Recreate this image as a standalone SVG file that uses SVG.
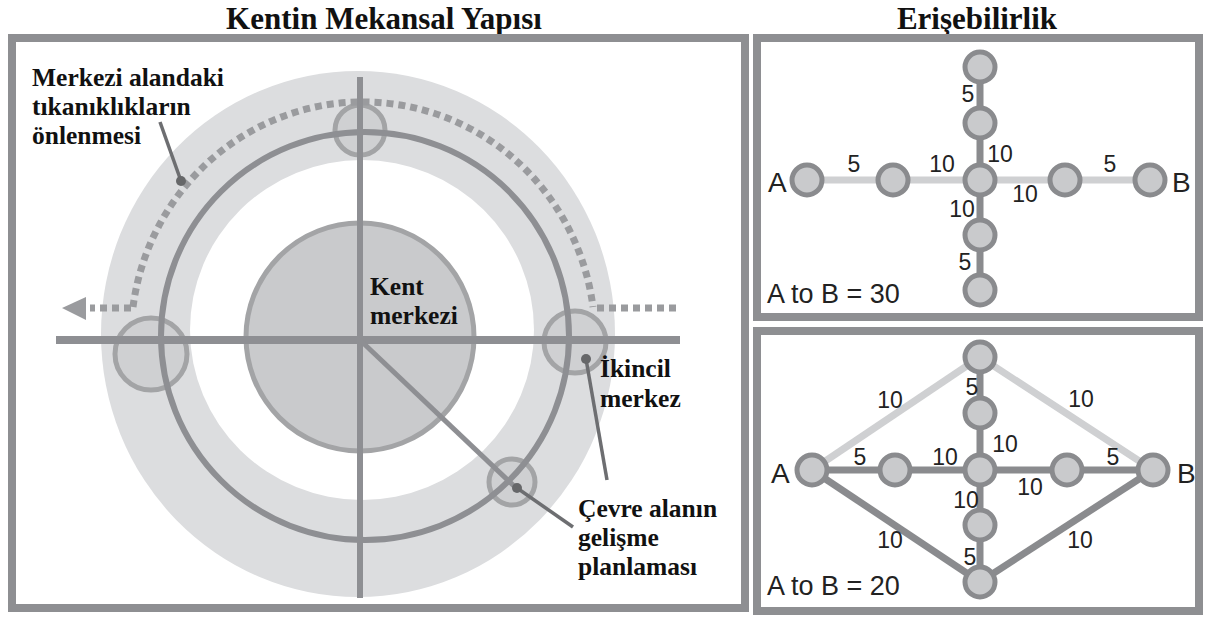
<svg xmlns="http://www.w3.org/2000/svg" width="1205" height="617" viewBox="0 0 1205 617">
<style>
.frame{fill:none;stroke:#8e8f92;stroke-width:8}
.title{font-family:"Liberation Serif",serif;font-weight:bold;font-size:31px;fill:#111;text-anchor:middle}
.lbl{font-family:"Liberation Serif",serif;font-weight:bold;font-size:25.5px;fill:#111}
.num{font-family:"Liberation Sans",Arial,sans-serif;font-size:23px;fill:#222;text-anchor:middle}
.big{font-family:"Liberation Sans",Arial,sans-serif;font-size:28px;fill:#222}
.sum{font-family:"Liberation Sans",Arial,sans-serif;font-size:27px;fill:#222}
.road{fill:none;stroke:#8e8f93}
.sub{fill:#cfd0d2;stroke:#a3a4a6;stroke-width:5}
.ptr{stroke:#6d6e71;stroke-width:3.5;fill:none}
.dot{fill:#666769}
.dash{fill:none;stroke:#9a9b9e;stroke-width:7;stroke-dasharray:7 5}
.node{fill:#c9cacc;stroke:#8a8b8e;stroke-width:5}
.lite{stroke:#cfd0d2;stroke-width:7;fill:none}
.dark{stroke:#8a8b8e;stroke-width:7;fill:none}
</style>

<!-- Titles -->
<text class="title" x="384" y="29">Kentin Mekansal Yapısı</text>
<text class="title" x="977" y="29">Erişebilirlik</text>

<!-- Frames -->
<g id="frames">
<rect class="frame" x="12" y="38" width="733" height="570"/>
<rect class="frame" x="757" y="38" width="442" height="279"/>
<rect class="frame" x="757" y="331" width="442" height="280"/>
</g>

<!-- Left panel: urban spatial structure -->
<g id="band">
<ellipse cx="358" cy="334" rx="257" ry="263" fill="#dcdddf"/>
<ellipse cx="362" cy="330" rx="172" ry="170" fill="#ffffff"/>
</g>
<g id="kent-merkezi">
<circle cx="360" cy="337" r="114" fill="#c9cacc" stroke="#a3a4a6" stroke-width="5"/>
</g>
<g id="sub-centres">
<circle class="sub" cx="360" cy="130" r="25"/>
<circle class="sub" cx="151" cy="354" r="36"/>
<circle class="sub" cx="575" cy="342" r="31"/>
<circle class="sub" cx="512" cy="482" r="23"/>
</g>
<g id="ring-road">
<ellipse class="road" cx="365" cy="336" rx="204" ry="204" stroke-width="6"/>
</g>
<g id="dashed-bypass">
<path class="dash" d="M133,307 A232,236 0 0 1 593,307"/>
<path class="dash" d="M597,308 L680,308"/>
<path class="dash" d="M131,308 L90,308"/>
<polygon points="62,308 86,297 86,320" fill="#9a9b9e"/>
</g>
<g id="axes">
<line class="road" x1="360" y1="77" x2="360" y2="598" stroke-width="6"/>
<line class="road" x1="56" y1="340" x2="680" y2="340" stroke-width="8"/>
<line class="road" x1="360" y1="340" x2="514" y2="486" stroke-width="5"/>
</g>
<g id="pointers">
<line class="ptr" x1="160" y1="122" x2="181" y2="181"/>
<circle class="dot" cx="181" cy="181" r="5"/>
<line class="ptr" x1="586" y1="359" x2="607" y2="480"/>
<circle class="dot" cx="586" cy="359" r="5"/>
<line class="ptr" x1="517" y1="488" x2="573" y2="527"/>
<circle class="dot" cx="517" cy="488" r="5"/>
</g>
<g id="labels-left">
<text class="lbl" x="32" y="86">Merkezi alandaki</text>
<text class="lbl" x="32" y="115">tıkanıklıkların</text>
<text class="lbl" x="32" y="144">önlenmesi</text>
<text class="lbl" x="370" y="295">Kent</text>
<text class="lbl" x="370" y="324">merkezi</text>
<text class="lbl" x="600" y="377">İkincil</text>
<text class="lbl" x="600" y="407">merkez</text>
<text class="lbl" x="578" y="517">Çevre alanın</text>
<text class="lbl" x="578" y="546">gelişme</text>
<text class="lbl" x="578" y="575">planlaması</text>
</g>

<!-- Top right graph -->
<g id="connectors-top">
<line class="lite" x1="807" y1="180" x2="1150" y2="180"/>
<line class="dark" x1="980" y1="67" x2="980" y2="290"/>
</g>
<g id="nodes-top">
<circle class="node" cx="807" cy="180" r="15"/>
<circle class="node" cx="893" cy="180" r="15"/>
<circle class="node" cx="980" cy="180" r="15"/>
<circle class="node" cx="1065" cy="180" r="15"/>
<circle class="node" cx="1150" cy="180" r="15"/>
<circle class="node" cx="980" cy="67" r="15"/>
<circle class="node" cx="980" cy="123" r="15"/>
<circle class="node" cx="980" cy="235" r="15"/>
<circle class="node" cx="980" cy="290" r="15"/>
</g>
<g id="labels-top">
<text class="big" x="768" y="192">A</text>
<text class="big" x="1172" y="192">B</text>
<text class="num" x="854" y="172">5</text>
<text class="num" x="942" y="172">10</text>
<text class="num" x="1000" y="162">10</text>
<text class="num" x="1025" y="202">10</text>
<text class="num" x="1110" y="172">5</text>
<text class="num" x="962" y="217">10</text>
<text class="num" x="968" y="102">5</text>
<text class="num" x="965" y="270">5</text>
<text class="sum" x="767" y="303">A to B = 30</text>
</g>

<!-- Bottom right graph -->
<g id="connectors-bottom">
<line class="lite" x1="812" y1="470" x2="980" y2="357"/>
<line class="lite" x1="980" y1="357" x2="1153" y2="470"/>
<line class="dark" x1="812" y1="470" x2="980" y2="582" stroke-width="8"/>
<line class="dark" x1="980" y1="582" x2="1153" y2="470" stroke-width="8"/>
<line class="dark" x1="812" y1="470" x2="1153" y2="470"/>
<line class="dark" x1="980" y1="357" x2="980" y2="582"/>
</g>
<g id="nodes-bottom">
<circle class="node" cx="980" cy="357" r="15"/>
<circle class="node" cx="980" cy="413" r="15"/>
<circle class="node" cx="812" cy="470" r="15"/>
<circle class="node" cx="895" cy="470" r="15"/>
<circle class="node" cx="980" cy="470" r="15"/>
<circle class="node" cx="1067" cy="470" r="15"/>
<circle class="node" cx="1153" cy="470" r="15"/>
<circle class="node" cx="980" cy="525" r="15"/>
<circle class="node" cx="980" cy="582" r="15"/>
</g>
<g id="labels-bottom">
<text class="big" x="771" y="483">A</text>
<text class="big" x="1177" y="483">B</text>
<text class="num" x="890" y="408">10</text>
<text class="num" x="1081" y="407">10</text>
<text class="num" x="972" y="395">5</text>
<text class="num" x="1005" y="452">10</text>
<text class="num" x="860" y="465">5</text>
<text class="num" x="945" y="465">10</text>
<text class="num" x="1113" y="465">5</text>
<text class="num" x="1030" y="495">10</text>
<text class="num" x="966" y="508">10</text>
<text class="num" x="890" y="548">10</text>
<text class="num" x="1080" y="548">10</text>
<text class="num" x="970" y="565">5</text>
<text class="sum" x="767" y="595">A to B = 20</text>
</g>
</svg>
